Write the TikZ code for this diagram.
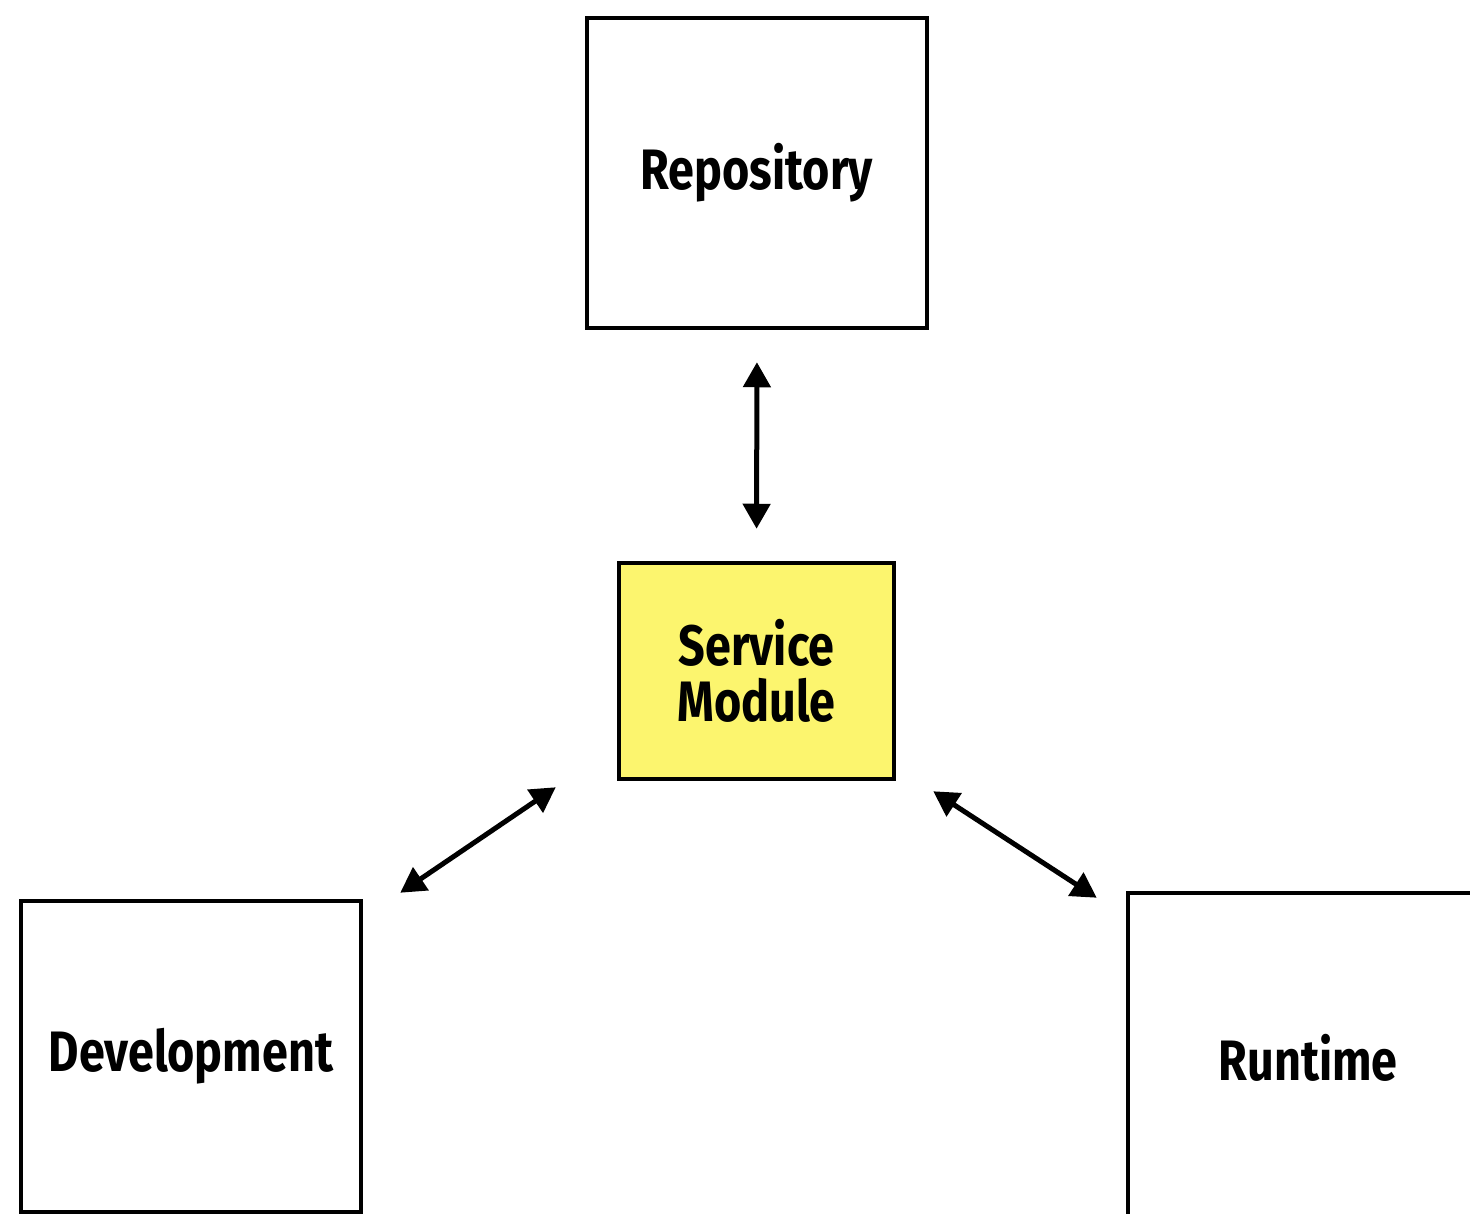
\documentclass[tikz,border=0pt]{standalone}
\usepackage{fontspec}
\usepackage{xcolor}
\usetikzlibrary{arrows.meta}
\newfontfamily\handfont{Fira Sans}[FakeStretch=0.82]
\definecolor{svcyellow}{RGB}{252,245,110}

\begin{document}
\begin{tikzpicture}[x=1pt, y=-1pt,
        box/.style={shape=rectangle, draw, line width=4.5pt, align=center, font=\handfont\bfseries\fontsize{57}{56}\selectfont},
        link/.style={line width=5pt, {Triangle[length=25pt, width=27pt]}-{Triangle[length=25pt, width=27pt]}}]
        	% Canvas:
        	\useasboundingbox (0, 0) rectangle (1470, 1214);
        	\fill[white] (0, 0) rectangle (1470, 1214);
        	\clip (0, 0) rectangle (1470, 1214);
        	% Boxes:
        	\node[box, minimum width=340, minimum height=310] (repo) at (757, 173){Repository};
        	\node[box, fill=svcyellow, minimum width=275, minimum height=216] (svc) at (756.5, 671){Service\\Module};
        	\node[box, minimum width=340, minimum height=311] (dev) at (191, 1056.5){Development};
        	\node[box, minimum width=360, minimum height=330] (run) at (1308, 1058){Runtime};
        	% Arrow ends:
        	\coordinate (svc-dl) at ([shift={(-61, 6)}]svc.south west);
        	\coordinate (dev-in) at ([shift={(37, -6)}]dev.north east);
        	\coordinate (svc-dr) at ([shift={(37, 10)}]svc.south east);
        	\coordinate (run-in) at ([shift={(-29, 7)}]run.north west);
        	% Arrows:
        	\draw[link, shorten <=32pt, shorten >=32pt] (repo.south) -- (svc.north);
        	\draw[link] (svc-dl) -- (dev-in);
        	\draw[link] (svc-dr) -- (run-in);
        \end{tikzpicture}
\end{document}
